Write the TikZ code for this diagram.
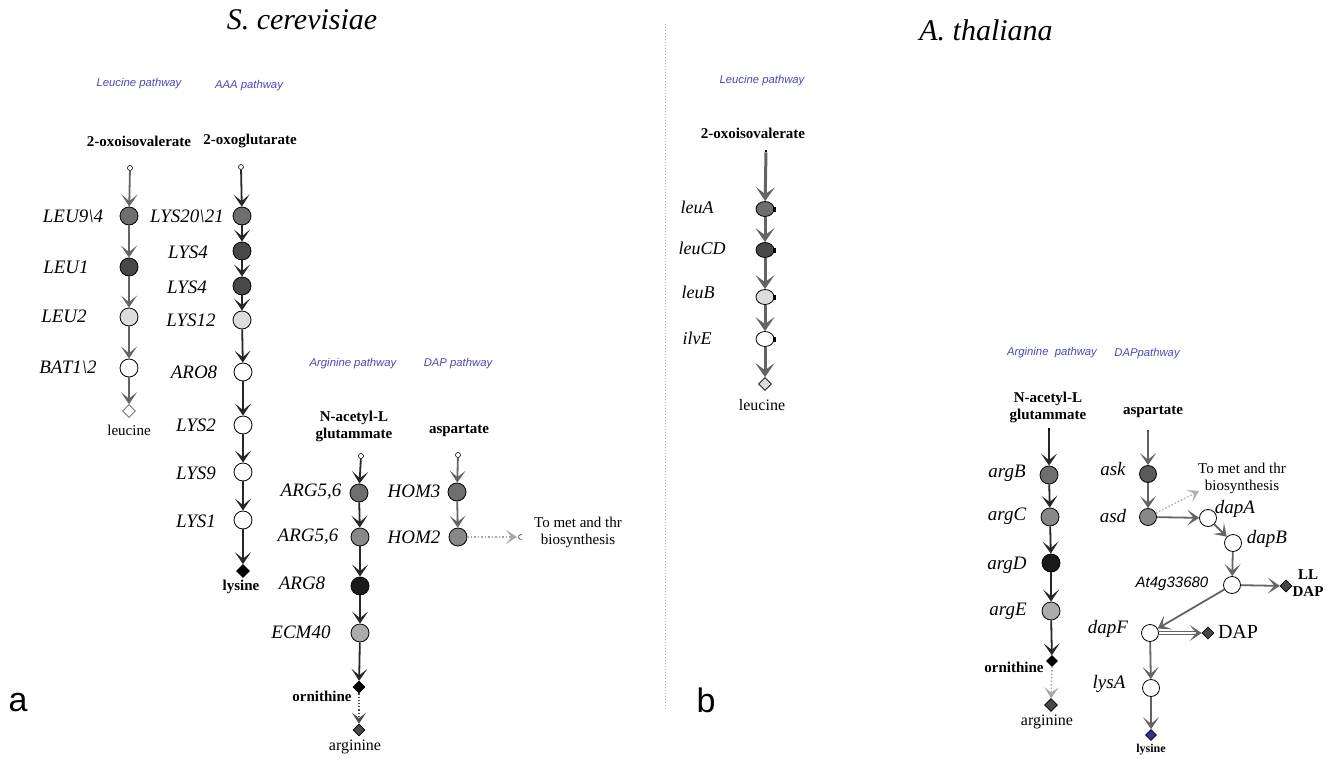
\documentclass[tikz,border=0pt]{standalone}
\usepackage{fontspec}
\setmainfont{Liberation Serif}
\newfontfamily\arial{Liberation Sans}
\usetikzlibrary{arrows.meta,shapes.geometric}
\definecolor{pathblue}{RGB}{72,72,184}
\definecolor{arrgray}{RGB}{100,100,100}
\definecolor{cA}{RGB}{110,110,110}
\definecolor{cB}{RGB}{72,72,72}
\definecolor{cC}{RGB}{220,220,220}
\definecolor{cD}{RGB}{136,136,136}
\definecolor{cE}{RGB}{26,26,26}
\definecolor{cF}{RGB}{172,172,172}
\definecolor{cG}{RGB}{90,90,90}
\definecolor{lysblue}{RGB}{50,50,150}
\begin{document}
\begin{tikzpicture}[x=1pt,y=-1pt,
  gene/.style={circle,draw=black,line width=0.8pt,minimum size=18pt,inner sep=0pt},
  egene/.style={ellipse,draw=black,line width=0.8pt,minimum width=18pt,minimum height=15pt,inner sep=0pt},
  startc/.style={circle,draw=black,line width=0.6pt,fill=white,minimum size=5pt,inner sep=0pt},
  startd/.style={rectangle,fill=black,minimum size=2.5pt,inner sep=0pt},
  prod/.style={diamond,draw=black,line width=0.6pt,minimum size=13pt,inner sep=0pt},
  glab/.style={font=\fontsize{19}{22}\selectfont\itshape},
  blab/.style={font=\fontsize{15}{17}\selectfont\bfseries,align=center},
  rlab/.style={font=\fontsize{15}{17}\selectfont,align=center},
  plab/.style={font=\arial\itshape\fontsize{11.3}{13}\selectfont,text=pathblue},
  ttl/.style={font=\fontsize{30}{34}\selectfont\itshape},
  panel/.style={font=\arial\fontsize{34}{38}\selectfont},
  garr/.style={draw=arrgray,line width=1.8pt,-{Stealth[length=12pt,width=16pt,inset=6.5pt]}},
  karr/.style={draw=black!85,line width=1.8pt,-{Stealth[length=12pt,width=16pt,inset=6.5pt]}},
  tgarr/.style={draw=arrgray,line width=3pt,-{Stealth[length=14pt,width=19pt,inset=7pt]}},
  darr/.style={draw=gray!70,line width=1.5pt,dotted,-{Stealth[length=11pt,width=14pt,inset=5.5pt]}},
  dkarr/.style={draw=black!70,line width=1.2pt,dotted,-{Stealth[length=11pt,width=14pt,inset=5.5pt]}}
]
\useasboundingbox (0,0) rectangle (1331,758);
\clip (0,0) rectangle (1331,758);

% titles and panel letters
\node[ttl] (t1) at (302,20) {S. cerevisiae};
\node[ttl] (t2) at (986,30) {A. thaliana};
\node[panel] (pa) at (18,703) {a};
\node[panel] (pb) at (706,700) {b};
\coordinate (sepT) at (665,24);
\coordinate (sepB) at (665,710);
\draw[gray!60,line width=1pt,dotted] (sepT) -- (sepB);

% ===== Panel a: leucine pathway =====
\node[plab] (lp1) at (139,84) {Leucine pathway};
\node[plab] (ap1) at (249,86) {AAA pathway};
\node[blab] (oiv1) at (139,141) {2-oxoisovalerate};
\node[blab] (ogl1) at (250,141) {2-oxoglutarate};

\node[startc] (s1) at (130,168) {};
\node[gene,fill=cA] (l1) at (129,216) {};
\node[gene,fill=cB] (l2) at (129,267) {};
\node[gene,fill=cC] (l3) at (129,317) {};
\node[gene,fill=white] (l4) at (129,368) {};
\node[prod,draw=arrgray,fill=white] (leu1) at (129,411) {};
\node[rlab] (leut1) at (129,430) {leucine};
\node[glab] (ll1) at (73,216) {LEU9\textbackslash 4};
\node[glab] (ll2) at (66,267) {LEU1};
\node[glab] (ll3) at (64,316) {LEU2};
\node[glab] (ll4) at (68,367) {BAT1\textbackslash 2};
\draw[garr] (s1) -- (l1);
\draw[garr] (l1) -- (l2);
\draw[garr] (l2) -- (l3);
\draw[garr] (l3) -- (l4);
\draw[garr] (l4) -- (leu1);

% AAA pathway
\node[startc] (s2) at (241,167) {};
\node[gene,fill=cA] (a1) at (242,216) {};
\node[gene,fill=cB] (a2) at (242,251) {};
\node[gene,fill=cB] (a3) at (242,286) {};
\node[gene,fill=cC] (a4) at (242,320) {};
\node[gene,fill=white] (a5) at (243,372) {};
\node[gene,fill=white] (a6) at (243,425) {};
\node[gene,fill=white] (a7) at (243,472) {};
\node[gene,fill=white] (a8) at (243,520) {};
\node[prod,fill=black] (lys1) at (243,571) {};
\node[blab] (lyst1) at (241,587) {lysine};
\node[glab] (al1) at (187,216) {LYS20\textbackslash 21};
\node[glab] (al2) at (188,252) {LYS4};
\node[glab] (al3) at (187,287) {LYS4};
\node[glab] (al4) at (191,320) {LYS12};
\node[glab] (al5) at (194,372) {ARO8};
\node[glab] (al6) at (196,425) {LYS2};
\node[glab] (al7) at (196,473) {LYS9};
\node[glab] (al8) at (196,521) {LYS1};
\draw[karr] (s2) -- (a1);
\draw[karr] (a1) -- (a2);
\draw[karr] (a2) -- (a3);
\draw[karr] (a3) -- (a4);
\draw[karr] (a4) -- (a5);
\draw[karr] (a5) -- (a6);
\draw[karr] (a6) -- (a7);
\draw[karr] (a7) -- (a8);
\draw[karr] (a8) -- (lys1);

% Arginine pathway (a)
\node[plab] (rp1) at (353,364) {Arginine pathway};
\node[plab] (dp1) at (458,364) {DAP pathway};
\node[blab] (nag1) at (354,426) {N-acetyl-L\\glutammate};
\node[blab] (asp1) at (459,431) {aspartate};
\node[startc] (s3) at (361,456) {};
\node[gene,fill=cA] (g1) at (359,493) {};
\node[gene,fill=cD] (g2) at (360,537) {};
\node[gene,fill=cE] (g3) at (360,586) {};
\node[gene,fill=cF] (g4) at (360,633) {};
\node[prod,fill=black,minimum size=12pt] (orn1) at (359,687) {};
\node[prod,fill=cB,minimum size=12pt] (arg1) at (359,730) {};
\node[blab] (ornt1) at (322,696) {ornithine};
\node[rlab,font=\fontsize{16}{18}\selectfont] (argt1) at (355,747) {arginine};
\node[glab] (gl1) at (311,492) {ARG5,6};
\node[glab] (gl2) at (308,537) {ARG5,6};
\node[glab] (gl3) at (302,583) {ARG8};
\node[glab] (gl4) at (301,632) {ECM40};
\draw[karr] (s3) -- (g1);
\draw[karr] (g1) -- (g2);
\draw[karr] (g2) -- (g3);
\draw[karr] (g3) -- (g4);
\draw[karr] (g4) -- (orn1);
\draw[dkarr] (orn1) -- (arg1);

% DAP pathway (a)
\node[startc] (s4) at (458,455) {};
\node[gene,fill=cA] (h1) at (457,492) {};
\node[gene,fill=cD] (h2) at (458,537) {};
\node[glab] (hl1) at (414,491) {HOM3};
\node[glab] (hl2) at (414,537) {HOM2};
\coordinate (met1) at (517,537);
\node[rlab] (mett1) at (578,532) {To met and thr\\biosynthesis};
\draw[garr] (s4) -- (h1);
\draw[garr] (h1) -- (h2);
\draw[darr] (h2) -- (met1);
\draw[arrgray,line width=0.8pt] (521,537) ++(60:2.5pt) arc[start angle=60,end angle=300,radius=2.5pt];

% ===== Panel b: leucine pathway =====
\node[plab] (lp2) at (762,81) {Leucine pathway};
\node[blab] (oiv2) at (753,133) {2-oxoisovalerate};
\node[startd] (s5) at (766,151) {};
\node[egene,fill=cA] (e1) at (765,209) {};
\node[egene,fill=cB] (e2) at (765,250) {};
\node[egene,fill=cC] (e3) at (765,297) {};
\node[egene,fill=white] (e4) at (765,339) {};
\node[prod,fill=cC] (leu2) at (765,384) {};
\node[rlab,font=\fontsize{16}{18}\selectfont] (leut2) at (762,405) {leucine};
\node[glab,font=\fontsize{18}{21}\selectfont\itshape] (el1) at (697,207) {leuA};
\node[glab,font=\fontsize{18}{21}\selectfont\itshape] (el2) at (702,248) {leuCD};
\node[glab,font=\fontsize{18}{21}\selectfont\itshape] (el3) at (698,292) {leuB};
\node[glab,font=\fontsize{18}{21}\selectfont\itshape] (el4) at (697,338) {ilvE};
\draw[tgarr] (s5) -- (e1);
\draw[tgarr] (e1) -- (e2);
\draw[tgarr] (e2) -- (e3);
\draw[tgarr] (e3) -- (e4);
\draw[tgarr] (e4) -- (leu2);
\foreach \n in {e1,e2,e3,e4} {\fill[black] ([xshift=-1pt]\n.east) ++(0,-2.5) rectangle ++(3,5);}

% Arginine pathway (b)
\node[plab] (rp2) at (1052,353) {Arginine\ \ pathway};
\node[plab] (dp2) at (1147,354) {DAPpathway};
\node[blab] (nag2) at (1048,407) {N-acetyl-L\\glutammate};
\node[blab] (asp2) at (1153,412) {aspartate};
\node[startd] (s6) at (1049,429) {};
\node[gene,fill=cA] (b1) at (1049,475) {};
\node[gene,fill=cD] (b2) at (1050,517) {};
\node[gene,fill=cE] (b3) at (1051,563) {};
\node[gene,fill=cF] (b4) at (1051,611) {};
\node[prod,fill=black,minimum size=11pt] (orn2) at (1052,661) {};
\node[prod,fill=cB] (arg2) at (1051,705) {};
\node[blab] (ornt2) at (1014,667) {ornithine};
\node[rlab,font=\fontsize{16}{18}\selectfont] (argt2) at (1047,722) {arginine};
\node[glab] (bl1) at (1007,473) {argB};
\node[glab] (bl2) at (1007,516) {argC};
\node[glab] (bl3) at (1007,565) {argD};
\node[glab] (bl4) at (1008,611) {argE};
\draw[karr] (s6) -- (b1);
\draw[karr] (b1) -- (b2);
\draw[karr] (b2) -- (b3);
\draw[karr] (b3) -- (b4);
\draw[karr] (b4) -- (orn2);
\draw[darr] (orn2) -- (arg2);

% DAP pathway (b)
\node[startd,fill=cB] (s7) at (1148,431) {};
\node[gene,fill=cG,minimum size=17pt] (d1) at (1148,474) {};
\node[gene,fill=cD,minimum size=17pt] (d2) at (1148,517) {};
\node[gene,fill=white,minimum size=17pt] (d3) at (1208,518) {};
\node[gene,fill=white,minimum size=17pt] (d4) at (1233,543) {};
\node[gene,fill=white,minimum size=17pt] (d5) at (1232,585) {};
\node[gene,fill=white,minimum size=17pt] (d6) at (1150,633) {};
\node[gene,fill=white,minimum size=17pt] (d7) at (1151,688) {};
\node[prod,fill=cB,minimum size=12pt] (lldap) at (1286,586) {};
\node[prod,fill=cB,minimum size=12pt] (dap) at (1208,633) {};
\node[prod,fill=lysblue,minimum size=11pt] (lys2) at (1151,735) {};
\node[glab] (dl1) at (1113,469) {ask};
\node[glab] (dl2) at (1113,516) {asd};
\node[glab] (dl3) at (1235,509) {dapA};
\node[glab] (dl4) at (1267,539) {dapB};
\node[font=\arial\itshape\fontsize{15}{17}\selectfont] (dl5) at (1172,584) {At4g33680};
\node[glab] (dl6) at (1108,629) {dapF};
\node[glab] (dl7) at (1109,684) {lysA};
\node[blab,font=\fontsize{15}{17}\selectfont\bfseries] (lldapt) at (1308,583) {LL\\DAP};
\node[rlab,font=\fontsize{20}{22}\selectfont] (dapt) at (1238,632) {DAP};
\node[blab,font=\fontsize{12}{14}\selectfont\bfseries] (lyst2) at (1151,750) {lysine};
\coordinate (met2) at (1199,491);
\node[rlab] (mett2) at (1242,478) {To met and thr\\biosynthesis};
\draw[garr] (s7) -- (d1);
\draw[garr] (d1) -- (d2);
\draw[darr,gray!60] (d2) -- (met2);
\draw[garr] (d2) -- (d3);
\draw[garr] (d3) -- (d4);
\draw[garr] (d4) -- (d5);
\draw[garr] (d5) -- (lldap);
\draw[garr] (d5) -- (d6);
\draw[garr,double=white,double distance=1.5pt,line width=1pt] (d6) -- (dap);
\draw[garr] (d6) -- (d7);
\draw[garr] (d7) -- (lys2);
\end{tikzpicture}
\end{document}
